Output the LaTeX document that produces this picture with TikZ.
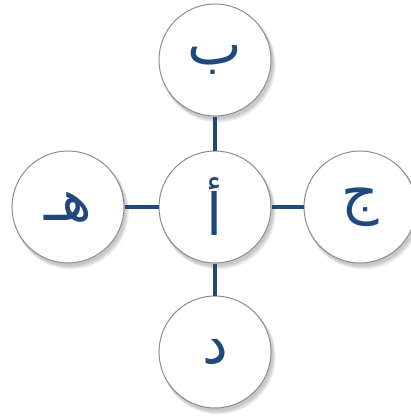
\documentclass[tikz,border=0pt]{standalone}
\usepackage{fontspec}
\TeXXeTstate=1
\newfontfamily\arabicfont[Script=Arabic]{DejaVu Sans}
\definecolor{navy}{HTML}{1F497D}
\definecolor{rimgray}{HTML}{8C8C8C}
\tikzset{
  letter/.style={circle, minimum size=112pt, inner sep=0pt, draw=rimgray, line width=1pt, fill=white,
    text=navy, font=\arabicfont\fontsize{58}{62}\selectfont},
  link/.style={draw=navy, line width=4pt},
  shade/.style={fill=black, opacity=0.06}
}
\begin{document}
\begin{tikzpicture}[x=1pt,y=-1pt]
\useasboundingbox (0,0) rectangle (411,416);
\begin{scope}
\clip (0,0) rectangle (411,416);
\foreach \p in {(215,60),(215,207),(68,207),(360,207),(215,352)}{
  \foreach \d in {1,2,3,4}{
    \fill[shade] \p ++(1.2+0.5*\d,2+0.7*\d) circle (56+0.4*\d);
  }
}
\node[letter] (b) at (215,60) {\beginR ب\endR};
\node[letter] (a) at (215,207) {\beginR أ\endR};
\node[letter] (h) at (68,207) {\beginR هـ\endR};
\node[letter] (j) at (360,207) {\beginR ج\endR};
\node[letter] (d) at (215,352) {\beginR د\endR};
\draw[link] (a) -- (b);
\draw[link] (a) -- (h);
\draw[link] (a) -- (j);
\draw[link] (a) -- (d);
\end{scope}
\end{tikzpicture}
\end{document}
